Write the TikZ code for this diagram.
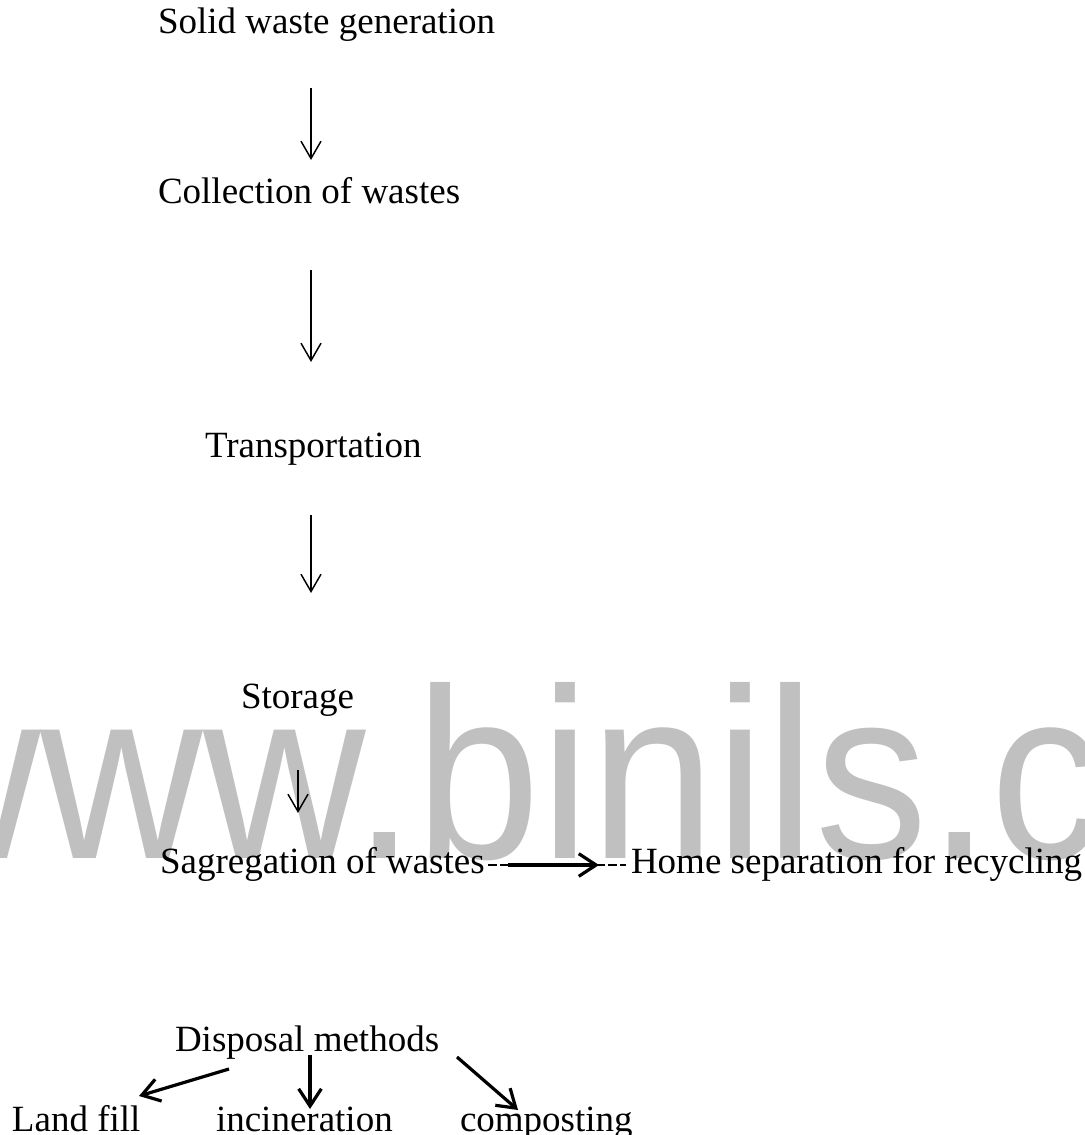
\documentclass[tikz,border=0pt]{standalone}
\usepackage{graphicx}
\usepackage{fontspec}
\setmainfont{Liberation Serif}
\newfontfamily\wmfont{Liberation Sans}
\usetikzlibrary{arrows.meta}
\definecolor{wmgray}{RGB}{192,192,192}
\begin{document}
\begin{tikzpicture}[x=0.75pt,y=-0.75pt,
  lbl/.style={anchor=base west,inner sep=0pt,outer sep=0pt,font=\fontsize{27.75}{30}\selectfont},
  thinarr/.style={line width=1.1pt,-{Straight Barb[length=13pt,width=15pt]}},
  thickarr/.style={line width=2.4pt,-{Straight Barb[length=13pt,width=17pt]}},
  dashline/.style={line width=1.3pt,dash pattern=on 6.5pt off 2.5pt}
]
\useasboundingbox (0,0) rectangle (1085,1135);
% watermark
\node[anchor=base west,inner sep=0pt,text=wmgray,font=\wmfont\fontsize{168.75}{170}\selectfont] (wm) at (-122,858) {\scalebox{1}[1.08]{www.binils.c}};

% labels
\node[lbl] (gen) at (158,33) {Solid waste generation};
\node[lbl] (col) at (158,203) {Collection of wastes};
\node[lbl] (tra) at (205,457) {Transportation};
\node[lbl] (sto) at (241,708) {Storage};
\node[lbl] (sag) at (160,873) {Sagregation of wastes};
\node[lbl] (home) at (631,873) {Home separation for recycling};
\node[lbl] (dis) at (175,1051) {Disposal methods};
\node[lbl] (land) at (12,1131) {Land fill};
\node[lbl] (inc) at (216,1131) {incineration};
\node[lbl] (com) at (460,1131) {composting};

% arrow end points
\coordinate (a1s) at (311,88);  \coordinate (a1e) at (311,160);
\coordinate (a2s) at (311,270); \coordinate (a2e) at (311,362);
\coordinate (a3s) at (311,515); \coordinate (a3e) at (311,593);
\coordinate (a4s) at (298,770); \coordinate (a4e) at (298,813);
\coordinate (ds) at (488,865);  \coordinate (de) at (626,865);
\coordinate (hs) at (508,865);  \coordinate (he) at (599,865);
\coordinate (l1s) at (229,1069); \coordinate (l1e) at (139,1096);
\coordinate (m1s) at (310,1055); \coordinate (m1e) at (310,1109);
\coordinate (r1s) at (457,1057); \coordinate (r1e) at (518,1110);

\draw[thinarr] (a1s) -- (a1e);
\draw[thinarr] (a2s) -- (a2e);
\draw[thinarr] (a3s) -- (a3e);
\draw[thinarr] (a4s) -- (a4e);
\draw[dashline] (ds) -- (de);
\draw[thickarr] (hs) -- (he);
\draw[thickarr] (l1s) -- (l1e);
\draw[thickarr] (m1s) -- (m1e);
\draw[thickarr] (r1s) -- (r1e);
\end{tikzpicture}
\end{document}
